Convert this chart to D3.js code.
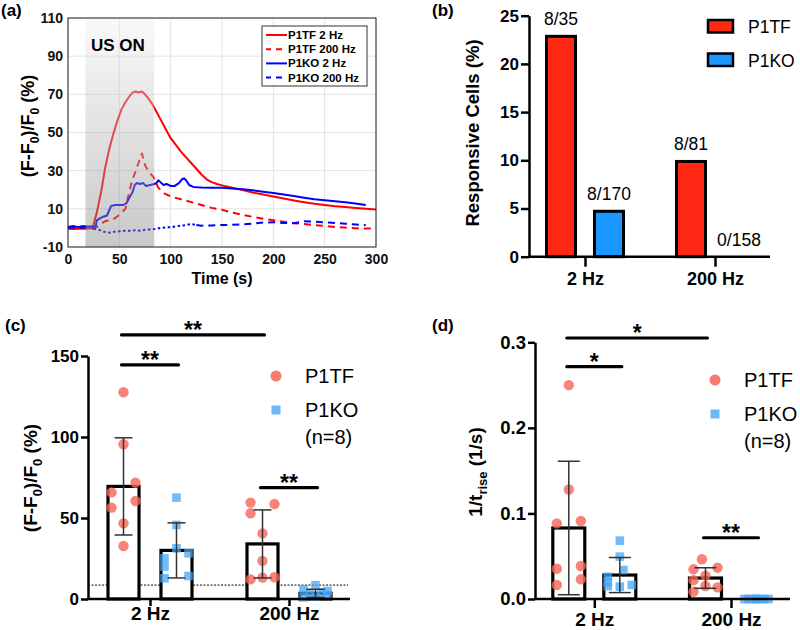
<!DOCTYPE html>
<html><head><meta charset="utf-8">
<script src="https://cdn.jsdelivr.net/npm/d3@7"></script>
<style>
body{margin:0;background:#fff;}
text{font-family:"Liberation Sans",Arial,Helvetica,sans-serif;}
</style></head><body>
<svg id="fig" width="800" height="630" xmlns="http://www.w3.org/2000/svg"></svg>
<script>
// ================= DATA =================
// Panel (a): calcium traces
const tP1TF2 = [0,5,10,15,20,24,26,28,30,33,36,40,44,48,52,56,60,63,66,69,72,75,78,82,86,90,95,100,105,110,115,120,125,130,135,140,145,150,160,170,180,190,200,210,220,230,240,250,260,270,280,290,300];
const vP1TF2 = [-0.5,-0.6,-0.4,-0.5,-0.3,0,4,8,13,21,31,41,49,56,62,66,69,71,71.5,71,71.5,70,68,65,61,57,52,47,43.5,40,37,34,31,28,25.5,24,23,22.3,21,19.8,18.6,17.5,16.5,15.4,14.4,13.5,12.7,12,11.4,10.9,10.5,10.1,9.7];
const tP1TF200 = [0,5,10,15,20,25,28,32,36,40,44,48,52,56,58,62,66,70,72,75,78,83,88,94,100,110,120,130,140,150,160,170,180,190,200,210,220,230,240,250,260,270,280,290,300];
const vP1TF200 = [0.5,1,0.5,1,0.3,0,0.5,2,3.5,4,4.5,6,8,10,15,24,30,36,39,33,30,26.8,21,18,16.5,15,13.5,12,10.5,9.5,8,6.8,5.8,4.8,4,3.2,2.5,2,1.5,1,0.5,0.2,-0.2,-0.3,-0.3];
const tP1KO2 = [0,5,10,15,20,25,27,28,31,35,38,40,42,46,50,54,57,60,63,65,67,70,73,76,80,84,86,88,90,93,96,100,104,108,111,113,115,118,122,126,130,140,150,160,170,180,190,200,210,220,230,240,250,260,270,280,290];
const vP1KO2 = [0.5,0.8,0.5,0.8,0.8,0.8,0.8,4,5,6,6.5,9,11.5,12,12,12,13,16,19,22.5,23.5,23,23.5,22,22.5,23,23.5,25,24,22.5,23,22,22,23.5,25.5,26,25,22.5,21.5,21.3,21.2,21.1,21,20.7,20.3,19.7,19,18.3,17.5,16.7,15.8,15,14.5,14,13.4,12.8,12];
const tP1KO200 = [0,5,10,15,20,25,30,35,40,45,50,55,60,65,70,75,80,85,90,95,100,105,110,115,120,125,130,140,150,160,170,180,190,200,210,220,230,240,250,260,270,280,290];
const vP1KO200 = [0,0.3,0,0.3,0,-0.5,-1,-2,-2.5,-2,-1.8,-1.5,-1.5,-1.2,-1.5,-1,-0.8,-0.5,0,0.3,0.3,0.8,1.2,1.5,2,1.5,1.2,1.3,1.5,1.6,1.8,2.2,2.8,3,2.6,2.5,3.5,3.2,3,2.6,2.2,1.8,1.5];
const legendA = ["P1TF 2 Hz","P1TF 200 Hz","P1KO 2 Hz","P1KO 200 Hz"];
const xTicksA = [0,50,100,150,200,250,300];
const yTicksA = [-10,10,30,50,70,90,110];
const usOnWindow = [17,84];

// Panel (b): responsive cells
const freqs = ["2 Hz","200 Hz"];
const groups = ["P1TF","P1KO"];
const respP1TF = [22.86, 9.88];
const respP1KO = [4.71, 0];
const respLabelP1TF = ["8/35","8/81"];
const respLabelP1KO = ["8/170","0/158"];
const yTicksB = [0,5,10,15,20,25];

// Panel (c): amplitude (F-F0)/F0 (%)
const ampP1TF2 = [127.6,95.5,71.8,65.8,60.5,56.4,46.7,32.7];
const ampP1KO2 = [62.6,45.7,31.3,28.2,25.1,20,14.2,12.8];
const ampP1TF200 = [59.5,58.6,52.9,40.5,23.5,13.2,12.1,13.4];
const ampP1KO200 = [8.5,6,5,4,3,2.5,1.5,1];
const ampMeanP1TF = [69.5, 34];
const ampSdP1TF = [30, 21];
const ampMeanP1KO = [30, 3.5];
const ampSdP1KO = [17, 2.5];
const ampThreshold = 8.6;
const yTicksC = [0,50,100,150];
const sigC = [
  {a:["2 Hz","P1TF"], b:["200 Hz","P1TF"], v:163, label:"**"},
  {a:["2 Hz","P1TF"], b:["2 Hz","P1KO"], v:144.5, label:"**"},
  {a:["200 Hz","P1TF"], b:["200 Hz","P1KO"], v:68.7, label:"**"}
];

// Panel (d): 1/t_rise (1/s)
const riseP1TF2 = [0.25,0.128,0.0884,0.0912,0.0354,0.0386,0.023,0.0164];
const riseP1KO2 = [0.0682,0.0495,0.0339,0.026,0.02,0.0164,0.015,0.0144];
const riseP1TF200 = [0.0464,0.0366,0.0347,0.0273,0.022,0.0152,0.0136,0.0086];
const riseP1KO200 = [0,0,0,0,0,0,0,0];
const riseMeanP1TF = [0.083, 0.0245];
const riseSdP1TF = [0.078, 0.012];
const riseMeanP1KO = [0.028, 0];
const riseSdP1KO = [0.0205, 0];
const yTicksD = [0,0.1,0.2,0.3];
const sigD = [
  {a:["2 Hz","P1TF"], b:["200 Hz","P1TF"], v:0.305, label:"*"},
  {a:["2 Hz","P1TF"], b:["2 Hz","P1KO"], v:0.2715, label:"*"},
  {a:["200 Hz","P1TF"], b:["200 Hz","P1KO"], v:0.0716, label:"**"}
];

// jitter slots (layout only)
const jitC = {"2 Hz|P1TF":[0,0,1,-1,1,-1,0,0], "2 Hz|P1KO":[0,0,0,1,-1,-1,1,-1],
              "200 Hz|P1TF":[-1,1,-1,0,0,0,-1,1], "200 Hz|P1KO":[0,-1,1,0.5,-0.5,1,0,-1]};
const jitD = {"2 Hz|P1TF":[0,0,-1,1,-1,1,1,-1], "2 Hz|P1KO":[0,0,0.3,-1,-1,1,-1,0],
              "200 Hz|P1TF":[-0.3,1,-1,0,-1,0,1,-1], "200 Hz|P1KO":[-1,-0.66,-0.33,0,0.33,0.66,1,0]};

// ================= DRAW =================
const svg = d3.select("#fig");
const defs = svg.append("defs");
const FONT = '"Liberation Sans",Arial,sans-serif';

function panelLabel(txt,x,y){
  svg.append("text").attr("x",x).attr("y",y).text(txt)
    .attr("font-family","'Liberation Serif','Times New Roman',serif")
    .attr("font-weight","bold").attr("font-size",17);
}
function subText(sel, parts, size){
  let shift = 0;
  parts.forEach(([t,sub])=>{
    const ts = sel.append("tspan").text(t);
    if(sub){ ts.attr("font-size",size*0.68).attr("dy", size*0.28); shift = size*0.28; }
    else { ts.attr("font-size",size); if(shift){ ts.attr("dy",-shift); shift=0; } }
  });
}

// ---------- Panel (a) ----------
(function(){
  const g = svg.append("g");
  const x = d3.scaleLinear().domain([0,300]).range([68,376]);
  const y = d3.scaleLinear().domain([-10,110]).range([247,18]);
  g.append("rect").attr("x",x(0)).attr("y",y(110)).attr("width",x(300)-x(0)).attr("height",y(-10)-y(110)).attr("fill","#fff");
  g.selectAll(".gx").data(xTicksA).join("line")
    .attr("x1",d=>x(d)).attr("x2",d=>x(d)).attr("y1",y(-10)).attr("y2",y(110))
    .attr("stroke","#e2e2e2").attr("stroke-width",1);
  g.selectAll(".gy").data(yTicksA).join("line")
    .attr("x1",x(0)).attr("x2",x(300)).attr("y1",d=>y(d)).attr("y2",d=>y(d))
    .attr("stroke","#e2e2e2").attr("stroke-width",1);

  const series = [
    {t:tP1TF2,v:vP1TF2,c:"#ff0000",dash:null},
    {t:tP1TF200,v:vP1TF200,c:"#ff0000",dash:"7,5"},
    {t:tP1KO2,v:vP1KO2,c:"#0000ff",dash:null},
    {t:tP1KO200,v:vP1KO200,c:"#0000ff",dash:"7,5",noisy:[25,125]}
  ];
  const line = d3.line().x(d=>x(d[0])).y(d=>y(d[1]));
  series.forEach(s=>{
    const pts = s.t.map((t,i)=>[t,s.v[i]]);
    if(s.noisy){
      const inside = pts.filter(p=>p[0]>=s.noisy[0] && p[0]<=s.noisy[1]);
      const before = pts.filter(p=>p[0]<=s.noisy[0]);
      const after = pts.filter(p=>p[0]>=s.noisy[1]);
      [[before,s.dash],[inside,"2.5,2.5"],[after,s.dash]].forEach(([seg,da])=>{
        g.append("path").datum(seg).attr("d",line).attr("fill","none").attr("stroke",s.c)
          .attr("stroke-width",2).attr("stroke-dasharray",da);
      });
    } else {
      g.append("path").datum(pts)
        .attr("d",line).attr("fill","none").attr("stroke",s.c).attr("stroke-width",2)
        .attr("stroke-dasharray",s.dash).attr("stroke-linejoin","round");
    }
  });

  const grad = defs.append("linearGradient").attr("id","usgrad").attr("x1",0).attr("x2",0).attr("y1",0).attr("y2",1);
  grad.append("stop").attr("offset","0%").attr("stop-color","#f2f2f2");
  grad.append("stop").attr("offset","100%").attr("stop-color","#7e7e7e");
  g.append("rect").attr("x",x(usOnWindow[0])).attr("y",y(110))
    .attr("width",x(usOnWindow[1])-x(usOnWindow[0])).attr("height",y(-10)-y(110))
    .attr("fill","url(#usgrad)").attr("opacity",0.42);

  g.append("text").attr("x",x((usOnWindow[0]+usOnWindow[1])/2)-2).attr("y",51)
    .attr("text-anchor","middle").attr("font-weight","bold").attr("font-size",17).text("US ON");

  g.append("rect").attr("x",x(0)).attr("y",y(110)).attr("width",x(300)-x(0)).attr("height",y(-10)-y(110))
    .attr("fill","none").attr("stroke","#222").attr("stroke-width",1);

  const ax = g.append("g").attr("transform",`translate(0,${y(-10)})`)
    .call(d3.axisBottom(x).tickValues(xTicksA).tickFormat(d=>String(d)).tickSize(0).tickPadding(7));
  ax.select(".domain").remove();
  ax.selectAll("text").attr("font-size",14).attr("font-weight","bold").attr("font-family",FONT).attr("fill","#111");
  const ay = g.append("g").attr("transform",`translate(${x(0)},0)`)
    .call(d3.axisLeft(y).tickValues(yTicksA).tickFormat(d=>String(d)).tickSize(0).tickPadding(5));
  ay.select(".domain").remove();
  ay.selectAll("text").attr("font-size",14).attr("font-weight","bold").attr("font-family",FONT).attr("fill","#111");

  g.append("text").attr("x",(x(0)+x(300))/2).attr("y",284).attr("text-anchor","middle")
    .attr("font-weight","bold").attr("font-size",16).text("Time (s)");
  const yt = g.append("text").attr("transform",`translate(34,126) rotate(-90)`)
    .attr("text-anchor","middle").attr("font-weight","bold");
  subText(yt, [["(F-F",false],["0",true],[")/F",false],["0",true],[" (%)",false]], 18);

  // legend
  const lg = g.append("g");
  lg.append("rect").attr("x",262).attr("y",26).attr("width",105).attr("height",60)
    .attr("fill","#fff").attr("stroke","#333").attr("stroke-width",1);
  legendA.forEach((name,i)=>{
    const yy = 35 + i*14.2;
    lg.append("line").attr("x1",266).attr("x2",287).attr("y1",yy).attr("y2",yy)
      .attr("stroke",series[i].c).attr("stroke-width",2).attr("stroke-dasharray",series[i].dash?"5,5,6":null);
    lg.append("text").attr("x",288).attr("y",yy+4).attr("font-size",11.5).attr("font-weight","bold").text(name);
  });
})();
panelLabel("(a)",1,16);

// ---------- Panel (b) ----------
(function(){
  const g = svg.append("g");
  const y = d3.scaleLinear().domain([0,25]).range([256.7,15.7]);
  const x0 = d3.scalePoint().domain(freqs).range([585,715]);
  const x1 = d3.scaleBand().domain(groups).range([-38.5,38.5]).paddingInner(0.396).paddingOuter(0);
  const colors = {P1TF:"#ff2814", P1KO:"#1a98ff"};
  const rows = [];
  freqs.forEach((f,i)=>{
    rows.push({f, grp:"P1TF", v:respP1TF[i], lab:respLabelP1TF[i]});
    rows.push({f, grp:"P1KO", v:respP1KO[i], lab:respLabelP1KO[i]});
  });
  g.selectAll(".bar").data(rows.filter(d=>d.v>0)).join("rect")
    .attr("x",d=>x0(d.f)+x1(d.grp)).attr("width",x1.bandwidth())
    .attr("y",d=>y(d.v)).attr("height",d=>y(0)-y(d.v))
    .attr("fill",d=>colors[d.grp]).attr("stroke","#000").attr("stroke-width",3);
  g.selectAll(".lab").data(rows).join("text")
    .attr("x",d=>x0(d.f)+x1(d.grp)+x1.bandwidth()/2).attr("y",d=>y(d.v)-11)
    .attr("text-anchor","middle").attr("font-size",17.5).text(d=>d.lab);

  const ay = g.append("g").attr("transform","translate(529,0)")
    .call(d3.axisLeft(y).tickValues(yTicksB).tickSize(8).tickSizeOuter(0).tickPadding(2));
  ay.select(".domain").attr("stroke-width",2.5);
  ay.selectAll(".tick line").attr("stroke-width",2.5);
  ay.selectAll("text").attr("font-size",17).attr("font-weight","bold").attr("font-family",FONT).attr("fill","#000");
  g.append("line").attr("x1",528).attr("x2",770).attr("y1",y(0)).attr("y2",y(0)).attr("stroke","#000").attr("stroke-width",2.5);
  const ax = g.append("g").attr("transform",`translate(0,${y(0)})`)
    .call(d3.axisBottom(x0).tickSize(10).tickPadding(6));
  ax.select(".domain").remove();
  ax.selectAll(".tick line").attr("stroke-width",2.5);
  ax.selectAll("text").attr("font-size",18).attr("font-weight","bold").attr("font-family",FONT).attr("fill","#000");

  g.append("text").attr("transform",`translate(479,133) rotate(-90)`).attr("text-anchor","middle")
    .attr("font-weight","bold").attr("font-size",18.5).text("Responsive Cells (%)");

  groups.forEach((grp,i)=>{
    const yy = 20 + i*33.5;
    g.append("rect").attr("x",708).attr("y",yy).attr("width",25).attr("height",12.5)
      .attr("fill",colors[grp]).attr("stroke","#000").attr("stroke-width",2.5);
    g.append("text").attr("x",748).attr("y",yy+13).attr("font-size",17.5).text(grp);
  });
})();
panelLabel("(b)",432,16);

// ---------- Panels (c) and (d) ----------
function scatterBar(cfg){
  const g = svg.append("g");
  const y = d3.scaleLinear().domain(cfg.ydom).range([599, cfg.ytop]);
  const x0 = d3.scalePoint().domain(freqs).range(cfg.catRange);
  const x1 = d3.scaleBand().domain(groups).range([-cfg.half,cfg.half]).paddingInner(cfg.pin).paddingOuter(0);
  const cx = (f,grp)=>x0(f)+x1(grp)+x1.bandwidth()/2;
  const bars = [];
  freqs.forEach((f,i)=>{
    groups.forEach(grp=>{
      bars.push({f,grp,m:cfg.mean[grp][i],sd:cfg.sd[grp][i],pts:cfg.pts[f+"|"+grp],jit:cfg.jit[f+"|"+grp]});
    });
  });
  if(cfg.threshold!=null){
    g.append("line").attr("x1",cfg.axX).attr("x2",cfg.axEnd-2).attr("y1",y(cfg.threshold)).attr("y2",y(cfg.threshold))
      .attr("stroke","#000").attr("stroke-width",1).attr("stroke-dasharray","2,1.5");
  }
  g.selectAll(".bar").data(bars).join("rect")
    .attr("x",d=>x0(d.f)+x1(d.grp)).attr("width",x1.bandwidth())
    .attr("y",d=>y(d.m)).attr("height",d=>Math.max(0,y(0)-y(d.m)))
    .attr("fill","#fff").attr("stroke","#000").attr("stroke-width",3.2);
  bars.forEach(b=>{
    const pg = g.append("g");
    if(b.grp==="P1TF"){
      pg.selectAll("circle").data(b.pts).join("circle")
        .attr("cx",(d,i)=>cx(b.f,b.grp)+b.jit[i]*cfg.jw).attr("cy",d=>y(d)).attr("r",5.2)
        .attr("fill","rgb(246,100,88)").attr("fill-opacity",0.8);
    } else {
      pg.selectAll("rect").data(b.pts).join("rect")
        .attr("x",(d,i)=>cx(b.f,b.grp)+b.jit[i]*cfg.jw-4.3).attr("y",d=>y(d)-4.3)
        .attr("width",8.6).attr("height",8.6)
        .attr("fill","rgb(70,165,245)").attr("fill-opacity",0.75);
    }
  });
  bars.filter(b=>b.sd>0).forEach(b=>{
    const c = cx(b.f,b.grp);
    const eg = g.append("g").attr("stroke","#333").attr("stroke-width",1.5);
    eg.append("line").attr("x1",c).attr("x2",c).attr("y1",y(b.m+b.sd)).attr("y2",y(Math.max(0,b.m-b.sd)));
    [b.m+b.sd, b.m-b.sd].forEach(v=>{
      eg.append("line").attr("x1",c-cfg.cap).attr("x2",c+cfg.cap).attr("y1",y(v)).attr("y2",y(v));
    });
  });
  cfg.sig.forEach(s=>{
    const xa = cx(s.a[0],s.a[1]), xb = cx(s.b[0],s.b[1]);
    g.append("line").attr("x1",xa-2).attr("x2",xb+2).attr("y1",y(s.v)).attr("y2",y(s.v))
      .attr("stroke","#000").attr("stroke-width",3.2).attr("stroke-linecap","round");
    g.append("text").attr("x",(xa+xb)/2).attr("y",y(s.v)+3).attr("text-anchor","middle")
      .attr("font-size",23).attr("font-weight","bold").text(s.label);
  });
  const ay = g.append("g").attr("transform",`translate(${cfg.axX},0)`)
    .call(d3.axisLeft(y).tickValues(cfg.yticks).tickFormat(cfg.fmt).tickSize(7).tickSizeOuter(0).tickPadding(2));
  ay.select(".domain").attr("stroke-width",2.5);
  ay.selectAll(".tick line").attr("stroke-width",2.5);
  ay.selectAll("text").attr("font-size",cfg.tickFs).attr("font-weight","bold").attr("font-family",FONT).attr("fill","#000");
  g.append("line").attr("x1",cfg.axX-1).attr("x2",cfg.axEnd).attr("y1",y(0)).attr("y2",y(0)).attr("stroke","#000").attr("stroke-width",2.5);
  const ax = g.append("g").attr("transform",`translate(0,${y(0)})`)
    .call(d3.axisBottom(x0).tickSize(cfg.xtick).tickPadding(cfg.xpad));
  ax.select(".domain").remove();
  ax.selectAll(".tick line").attr("stroke-width",2.5);
  ax.selectAll("text").attr("font-size",19).attr("font-weight","bold").attr("font-family",FONT).attr("fill","#000");
  const yt = g.append("text").attr("transform",`translate(${cfg.titleX},${cfg.titleY}) rotate(-90)`)
    .attr("text-anchor","middle").attr("font-weight","bold");
  subText(yt, cfg.title, 19);
  const lx = cfg.legX, ly = cfg.legY;
  g.append("circle").attr("cx",lx).attr("cy",ly).attr("r",5.5).attr("fill","rgb(246,100,88)").attr("fill-opacity",0.85);
  g.append("text").attr("x",lx+29).attr("y",ly+7).attr("font-size",20).text("P1TF");
  g.append("rect").attr("x",lx-4.5).attr("y",ly+34-4.5).attr("width",9).attr("height",9).attr("fill","rgb(70,165,245)").attr("fill-opacity",0.8);
  g.append("text").attr("x",lx+29).attr("y",ly+34+7).attr("font-size",20).text("P1KO");
  g.append("text").attr("x",lx+29).attr("y",ly+61+7).attr("font-size",20).text("(n=8)");
}

scatterBar({
  ydom:[0,150], ytop:356, catRange:[150,289], half:42, pin:0.415, axX:88, axEnd:350,
  mean:{P1TF:ampMeanP1TF, P1KO:ampMeanP1KO}, sd:{P1TF:ampSdP1TF, P1KO:ampSdP1KO},
  pts:{"2 Hz|P1TF":ampP1TF2, "2 Hz|P1KO":ampP1KO2, "200 Hz|P1TF":ampP1TF200, "200 Hz|P1KO":ampP1KO200},
  jit:jitC, jw:12, cap:9, threshold:ampThreshold, sig:sigC, yticks:yTicksC, fmt:d3.format("d"), tickFs:17,
  xtick:7, xpad:1, titleX:37, titleY:478,
  title:[["(F-F",false],["0",true],[")/F",false],["0",true],[" (%)",false]],
  legX:276, legY:376
});
panelLabel("(c)",5,331);

scatterBar({
  ydom:[0,0.3], ytop:342.3, catRange:[594.3,731], half:41.5, pin:0.373, axX:535, axEnd:790,
  mean:{P1TF:riseMeanP1TF, P1KO:riseMeanP1KO}, sd:{P1TF:riseSdP1TF, P1KO:riseSdP1KO},
  pts:{"2 Hz|P1TF":riseP1TF2, "2 Hz|P1KO":riseP1KO2, "200 Hz|P1TF":riseP1TF200, "200 Hz|P1KO":riseP1KO200},
  jit:jitD, jw:12, cap:11, threshold:null, sig:sigD, yticks:yTicksD, fmt:d3.format(".1f"), tickFs:18.5,
  xtick:9, xpad:5, titleX:482, titleY:472,
  title:[["1/t",false],["rise",true],[" (1/s)",false]],
  legX:715, legY:380
});
panelLabel("(d)",432,331);
</script>
</body></html>
